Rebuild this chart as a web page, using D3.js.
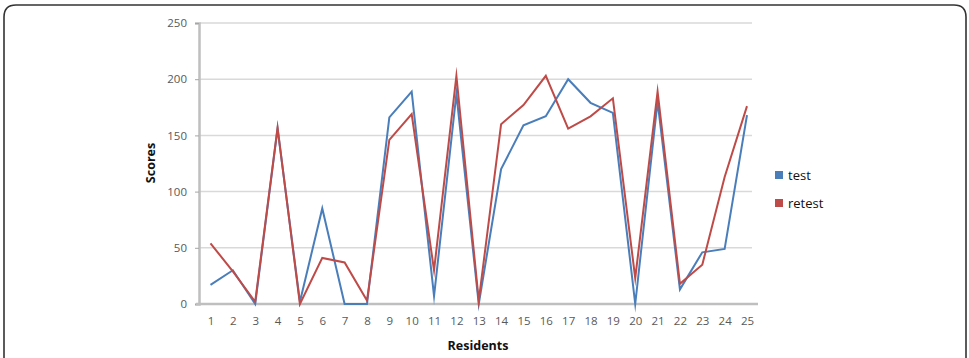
<!DOCTYPE html>
<html><head><meta charset="utf-8">
<script src="https://cdn.jsdelivr.net/npm/d3@7"></script>
<style>body{margin:0;background:#fff;}svg{display:block;font-family:"Open Sans","Liberation Sans",sans-serif;}</style>
</head><body>
<svg id="chart" width="969" height="358"></svg>
<script>
const categories = d3.range(1, 26).map(String);
const testValues = [17, 30, 0, 156, 2, 85, 0, 0, 166, 189, 7, 187, 0, 120, 159, 167, 200, 179, 170, 0, 180, 13, 46, 49, 168];
const retestValues = [54, 29, 2, 157, 0, 41, 37, 3, 146, 169, 30, 203, 3, 160, 177, 203, 156, 167, 183, 23, 189, 18, 35, 113, 176];
const yTicks = [0, 50, 100, 150, 200, 250];
const seriesNames = ["test", "retest"];
const seriesColors = ["#4a7ebb", "#be4b48"];

const svg = d3.select("#chart");
// frame
svg.append("path")
  .attr("d", "M4,370 L4,17 Q4,5 16,5 L954,5 Q966,5 966,17 L966,370")
  .attr("fill", "none").attr("stroke", "#333").attr("stroke-width", 1.6);

const x = d3.scalePoint().domain(categories).range([210.5, 747]);
const y = d3.scaleLinear().domain([0, 250]).range([304, 23]);

// gridlines
svg.append("g").selectAll("line").data(yTicks.filter(d => d > 0)).join("line")
  .attr("x1", 200).attr("x2", 752)
  .attr("y1", d => y(d)).attr("y2", d => y(d))
  .attr("stroke", "#d9d9d9").attr("stroke-width", 1.5);

// y axis
const yAxis = svg.append("g").attr("transform", "translate(199,0)")
  .call(d3.axisLeft(y).tickValues(yTicks).tickSize(4).tickPadding(8));
yAxis.select(".domain").attr("stroke", "#bfbfbf").attr("stroke-width", 2.5);
yAxis.selectAll(".tick line").attr("stroke", "#a6a6a6");
yAxis.selectAll("text").attr("fill", "#595959").attr("font-size", 11.5).attr("font-family", "Open Sans, sans-serif");

// x axis
const xAxis = svg.append("g").attr("transform", "translate(0,304)")
  .call(d3.axisBottom(x).tickSize(0).tickPadding(13));
xAxis.select(".domain").attr("d", "M196,0H758").attr("stroke", "#bfbfbf").attr("stroke-width", 2.5);
xAxis.selectAll("text").attr("fill", "#595959").attr("font-size", 11.5).attr("font-family", "Open Sans, sans-serif");

// lines
const line = d3.line().x((d, i) => x(categories[i])).y(d => y(d));
[testValues, retestValues].forEach((vals, k) => {
  svg.append("path").datum(vals)
    .attr("d", line).attr("fill", "none")
    .attr("stroke", seriesColors[k]).attr("stroke-width", 2)
    .attr("stroke-linejoin", "miter").attr("stroke-miterlimit", 10);
});

// axis titles
svg.append("text").attr("x", 478).attr("y", 350).attr("text-anchor", "middle")
  .attr("font-weight", "bold").attr("font-size", 12.5).attr("fill", "#111").text("Residents");
svg.append("text").attr("transform", "translate(155,163) rotate(-90)").attr("text-anchor", "middle")
  .attr("font-weight", "bold").attr("font-size", 12.5).attr("fill", "#111").text("Scores");

// legend
const lg = svg.append("g");
seriesNames.forEach((n, i) => {
  const yy = 175 + i * 28;
  lg.append("rect").attr("x", 775).attr("y", yy - 4).attr("width", 8).attr("height", 8).attr("fill", seriesColors[i]);
  lg.append("text").attr("x", 788).attr("y", yy + 4.5).attr("font-size", 13).attr("fill", "#111").text(n);
});
</script>
</body></html>
